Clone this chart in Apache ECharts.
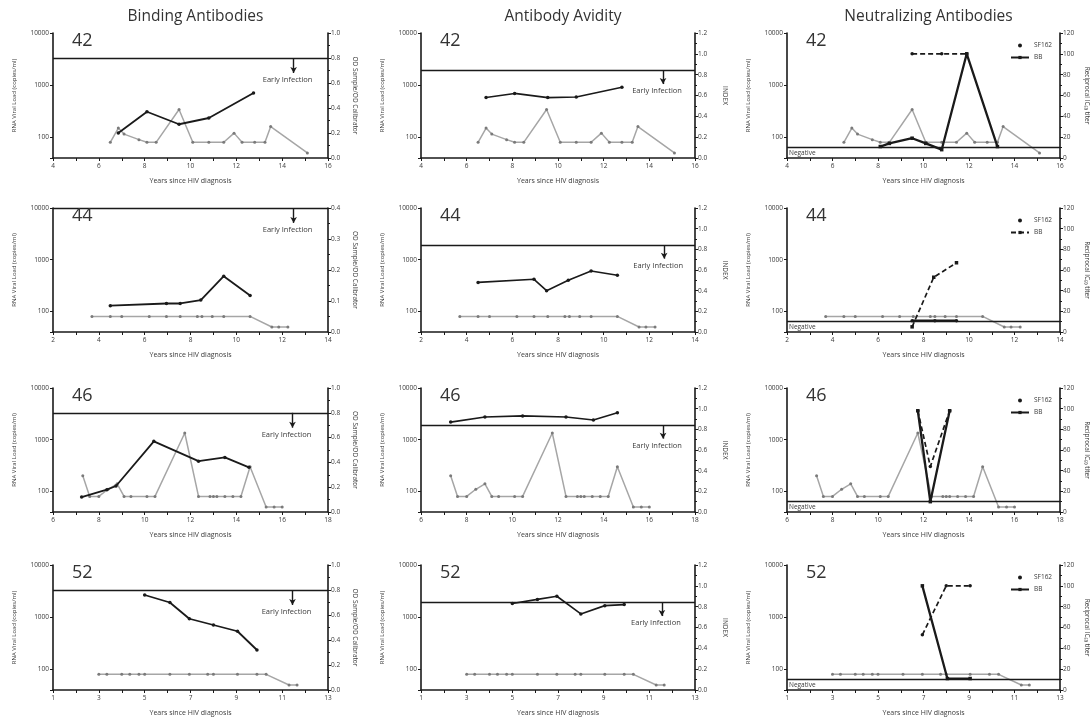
<!DOCTYPE html>
<html>
<head>
<meta charset="utf-8">
<script src="https://cdn.jsdelivr.net/npm/echarts@6/dist/echarts.min.js"></script>
<style>
  html, body { margin: 0; background: #fff; }
  #chart { width: 1091px; height: 726px; }
</style>
</head>
<body>
<div id="chart"></div>
<script>
// patients, one row each
const patients = ['42', '44', '46', '52'];
const yearMin = [4, 2, 6, 1];
const yearMax = [16, 14, 18, 13];

// RNA viral load (copies/ml), [years since diagnosis, value]
const vl42 = [[6.5, 80], [6.85, 150], [7.1, 115], [7.75, 90], [8.1, 80], [8.5, 80], [9.5, 340], [10.1, 80], [10.8, 80], [11.45, 80], [11.9, 120], [12.25, 80], [12.8, 80], [13.25, 80], [13.5, 160], [15.1, 50]];
const vl44 = [[3.7, 80], [4.5, 80], [5.0, 80], [6.2, 80], [6.95, 80], [7.55, 80], [8.3, 80], [8.5, 80], [8.95, 80], [9.45, 80], [10.6, 80], [11.55, 50], [11.85, 50], [12.25, 50]];
const vl46 = [[7.3, 200], [7.6, 80], [8.0, 80], [8.4, 110], [8.8, 140], [9.1, 80], [9.4, 80], [10.1, 80], [10.45, 80], [11.75, 1350], [12.35, 80], [12.85, 80], [13.0, 80], [13.15, 80], [13.5, 80], [13.85, 80], [14.2, 80], [14.6, 300], [15.3, 50], [15.65, 50], [16.0, 50]];
const vl52 = [[3.0, 80], [3.35, 80], [4.0, 80], [4.35, 80], [4.75, 80], [5.0, 80], [6.1, 80], [6.95, 80], [7.75, 80], [8.0, 80], [9.05, 80], [9.9, 80], [10.3, 80], [11.3, 50], [11.65, 50]];

// binding antibodies (OD sample / OD calibrator)
const bind42 = [[6.85, 0.2], [8.1, 0.37], [9.5, 0.27], [10.8, 0.32], [12.75, 0.52]];
const bind44 = [[4.5, 0.085], [6.95, 0.092], [7.55, 0.092], [8.45, 0.103], [9.45, 0.18], [10.6, 0.118]];
const bind46 = [[7.25, 0.12], [8.35, 0.18], [8.75, 0.21], [10.4, 0.57], [12.35, 0.41], [13.5, 0.44], [14.55, 0.36]];
const bind52 = [[5.0, 0.76], [6.1, 0.7], [6.95, 0.57], [8.0, 0.52], [9.05, 0.47], [9.9, 0.32]];

// antibody avidity index
const avid42 = [[6.85, 0.58], [8.1, 0.62], [9.55, 0.58], [10.8, 0.585], [12.8, 0.68]];
const avid44 = [[4.5, 0.48], [6.95, 0.51], [7.5, 0.4], [8.45, 0.5], [9.45, 0.59], [10.6, 0.55]];
const avid46 = [[7.3, 0.87], [8.8, 0.92], [10.45, 0.93], [12.35, 0.92], [13.55, 0.89], [14.6, 0.96]];
const avid52 = [[5.0, 0.83], [6.1, 0.87], [6.95, 0.9], [8.0, 0.73], [9.05, 0.81], [9.9, 0.82]];

// neutralizing antibodies, reciprocal IC50 titer
const sf42 = [[9.5, 100], [10.8, 100], [11.9, 100]];
const bb42 = [[8.1, 11], [8.5, 14], [9.5, 19], [10.1, 14], [10.8, 8], [11.9, 100], [13.25, 11]];
const sf44 = [[7.5, 11], [8.5, 11], [9.45, 11]];
const bb44 = [[7.5, 5], [8.45, 53], [9.45, 67]];
const sf46 = [[11.75, 98], [12.3, 44], [13.15, 98]];
const bb46 = [[11.75, 98], [12.3, 10], [13.15, 98]];
const sf52 = [[6.95, 53], [8.0, 100], [9.05, 100]];
const bb52 = [[6.95, 100], [8.05, 11], [9.05, 11]];

const viralLoad = [vl42, vl44, vl46, vl52];
const binding = [bind42, bind44, bind46, bind52];
const avidity = [avid42, avid44, avid46, avid52];
const sf162 = [sf42, sf44, sf46, sf52];
const bbTiter = [bb42, bb44, bb46, bb52];
// which neutralizing series is drawn dashed in each panel
const dashedBB = [false, true, false, false];

const bindMax = [1.0, 0.4, 1.0, 1.0];
const bindStep = [0.2, 0.1, 0.2, 0.2];
const bindCut = [0.8, 0.4, 0.8, 0.8];
const avidCut = 0.84;
const negCut = 10;
const bindArrowX = [14.5, 12.5, 16.45, 11.45];
const avidArrowX = [14.6, 12.65, 16.6, 11.55];

const colTitles = ['Binding Antibodies', 'Antibody Avidity', 'Neutralizing Antibodies'];
const rightNames = ['OD Sample/OD Calibrator', 'INDEX', 'Reciprocal IC\u2085\u2080 titer'];

const colLeft = [53, 421, 787];
const colWidth = [275, 274, 273];
const rowTop = [33, 208, 388, 565];
const rowHeight = [125, 124, 124, 125];

const FONT = 'Open Sans';
const INK = '#1a1a1a';
const TXT = '#3a3a3a';

let chart = echarts.init(document.getElementById('chart'));

let grid = [], xAxis = [], yAxis = [], series = [], title = [], legend = [];

colTitles.forEach((t, c) => {
  title.push({
    text: t, left: colLeft[c] + colWidth[c] / 2, top: 4, textAlign: 'center',
    textStyle: {fontFamily: FONT, fontSize: 15.5, fontWeight: 'normal', color: '#333'}
  });
});

function cutoffLine(cut, arrowX, drop) {
  return {
    silent: true, animation: false, symbol: 'none',
    lineStyle: {color: INK, width: 1.4, type: 'solid'},
    label: {show: false},
    data: [
      {yAxis: cut},
      [
        {coord: [arrowX, cut]},
        {
          coord: [arrowX, cut - drop], symbol: 'arrow', symbolSize: [5, 6],
          label: {show: true, position: 'end', formatter: 'Early Infection', distance: 3, offset: [-6, 0],
            fontFamily: FONT, fontSize: 7.5, color: TXT}
        }
      ]
    ]
  };
}

for (let r = 0; r < 4; r++) {
  for (let c = 0; c < 3; c++) {
    const g = r * 3 + c;
    const lo = yearMin[r];
    grid.push({left: colLeft[c], top: rowTop[r], width: colWidth[c], height: rowHeight[r]});

    xAxis.push({
      gridIndex: g, type: 'value', min: lo, max: yearMax[r], interval: 1,
      name: 'Years since HIV diagnosis', nameLocation: 'middle', nameGap: 19,
      nameTextStyle: {fontFamily: FONT, fontSize: 7, color: TXT},
      axisLine: {lineStyle: {color: INK, width: 1.6}},
      axisTick: {length: 3, interval: 0, lineStyle: {color: INK, width: 1}},
      axisLabel: {interval: 0, margin: 5, fontFamily: FONT, fontSize: 6.5, color: TXT,
        formatter: v => ((v - lo) % 2 === 0 ? String(v) : '')},
      splitLine: {show: false}
    });

    yAxis.push({
      gridIndex: g, type: 'log', min: 40, max: 10000, position: 'left',
      name: 'RNA Viral Load (copies/ml)', nameLocation: 'middle', nameGap: 36,
      nameTextStyle: {fontFamily: FONT, fontSize: 6, color: TXT},
      axisLine: {show: true, lineStyle: {color: INK, width: 1.6}},
      axisTick: {length: 3, lineStyle: {color: INK}},
      axisLabel: {margin: 4, fontFamily: FONT, fontSize: 6.5, color: TXT,
        formatter: v => {
          const e = Math.log10(v);
          return (v >= 99 && Math.abs(e - Math.round(e)) < 1e-6) ? String(Math.round(v)) : '';
        }},
      splitLine: {show: false}
    });

    let rMax, rStep, rFmt;
    if (c === 0) { rMax = bindMax[r]; rStep = bindStep[r]; rFmt = v => v.toFixed(1); }
    else if (c === 1) { rMax = 1.2; rStep = 0.2; rFmt = v => v.toFixed(1); }
    else { rMax = 120; rStep = 20; rFmt = v => String(v); }

    yAxis.push({
      gridIndex: g, type: 'value', min: 0, max: rMax, interval: rStep, position: 'right',
      name: rightNames[c], nameLocation: 'middle', nameRotate: -90, nameGap: c === 1 ? 26 : 23,
      nameTextStyle: {fontFamily: FONT, fontSize: 6.5, color: TXT},
      axisLine: {show: true, lineStyle: {color: INK, width: 1.6}},
      axisTick: {length: 3, lineStyle: {color: INK}},
      minorTick: {show: true, splitNumber: 2, length: 2, lineStyle: {color: INK}},
      axisLabel: {margin: 3, fontFamily: FONT, fontSize: 6.5, color: TXT, formatter: rFmt},
      splitLine: {show: false}
    });

    title.push({
      text: patients[r], left: colLeft[c] + 14, top: rowTop[r] - 6,
      textStyle: {fontFamily: FONT, fontSize: 18, fontWeight: 'normal', color: '#333'}
    });

    series.push({
      name: 'RNA ' + patients[r], type: 'line', xAxisIndex: g, yAxisIndex: 2 * g,
      data: viralLoad[r], symbol: 'circle', symbolSize: 3, z: 2,
      lineStyle: {color: '#a6a6a6', width: 1.5}, itemStyle: {color: '#7a7a7a'}
    });

    if (c === 0) {
      series.push({
        name: 'Binding ' + patients[r], type: 'line', xAxisIndex: g, yAxisIndex: 2 * g + 1,
        data: binding[r], symbol: 'circle', symbolSize: 3.5, z: 3,
        lineStyle: {color: INK, width: 1.8}, itemStyle: {color: INK},
        markLine: cutoffLine(bindCut[r], bindArrowX[r], 0.12 * bindMax[r])
      });
    } else if (c === 1) {
      series.push({
        name: 'Avidity ' + patients[r], type: 'line', xAxisIndex: g, yAxisIndex: 2 * g + 1,
        data: avidity[r], symbol: 'circle', symbolSize: 3.5, z: 3,
        lineStyle: {color: INK, width: 1.6}, itemStyle: {color: INK},
        markLine: cutoffLine(avidCut, avidArrowX[r], 0.13)
      });
    } else {
      const bbDash = dashedBB[r];
      series.push({
        name: 'SF162|' + patients[r], type: 'line', xAxisIndex: g, yAxisIndex: 2 * g + 1,
        data: sf162[r], symbol: 'circle', symbolSize: 3.5, z: 3,
        lineStyle: {color: INK, width: bbDash ? 2.3 : 1.7, type: bbDash ? 'solid' : [5, 3]},
        itemStyle: {color: INK},
        markLine: {
          silent: true, animation: false, symbol: 'none',
          lineStyle: {color: INK, width: 1.4, type: 'solid'},
          label: {show: true, position: 'insideStartBottom', formatter: 'Negative', distance: 2,
            fontFamily: FONT, fontSize: 6.5, color: TXT},
          data: [{yAxis: negCut}]
        }
      });
      series.push({
        name: 'BB|' + patients[r], type: 'line', xAxisIndex: g, yAxisIndex: 2 * g + 1,
        data: bbTiter[r], symbol: 'rect', symbolSize: 3.5, z: 4,
        lineStyle: {color: INK, width: bbDash ? 1.7 : 2.3, type: bbDash ? [5, 3] : 'solid'},
        itemStyle: {color: INK}
      });
      legend.push({
        selectedMode: false, orient: 'vertical', align: 'left',
        left: colLeft[c] + 218, top: rowTop[r] + 4,
        itemWidth: 18, itemHeight: 4, itemGap: 5,
        textStyle: {fontFamily: FONT, fontSize: 6.5, color: TXT},
        formatter: n => n.split('|')[0],
        data: [{name: 'SF162|' + patients[r], icon: 'circle'}, {name: 'BB|' + patients[r]}]
      });
    }
  }
}

chart.setOption({
  animation: false,
  backgroundColor: '#fff',
  textStyle: {fontFamily: FONT},
  title: title,
  legend: legend,
  grid: grid,
  xAxis: xAxis,
  yAxis: yAxis,
  series: series
});
</script>
</body>
</html>
